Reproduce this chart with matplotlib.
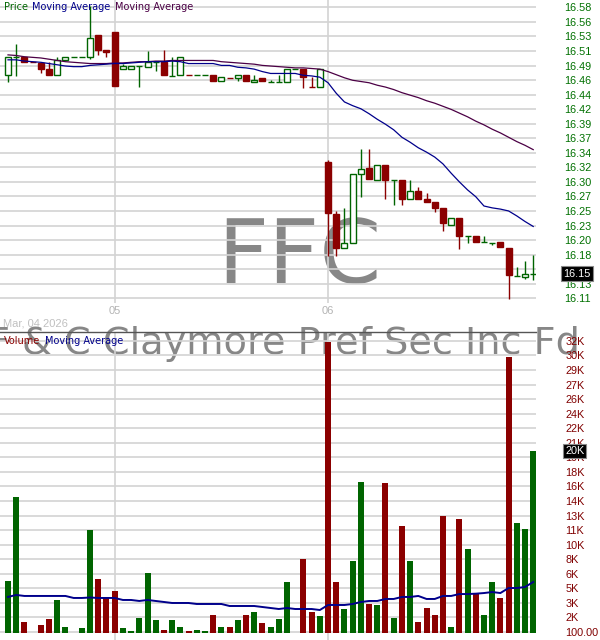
import numpy as np
import matplotlib
matplotlib.use("Agg")
import matplotlib.pyplot as plt
import matplotlib.transforms as mtransforms
from matplotlib.patches import Rectangle

# FFC, 15 minute bars, Mar 04 - Mar 06 2026
opens = [16.470, 16.499, 16.500, 16.491, 16.490, 16.480, 16.470, 16.494, 16.499, 16.499,
         16.499, 16.535, 16.511, 16.540, 16.481, 16.480, 16.485, 16.484, 16.491, 16.491,
         16.469, 16.470, 16.470, 16.470, 16.470, 16.470, 16.461, 16.465, 16.465, 16.470,
         16.460, 16.465, 16.460, 16.460, 16.460, 16.480, 16.480, 16.451, 16.451, 16.330,
         16.246, 16.191, 16.200, 16.310, 16.320, 16.301, 16.325, 16.301, 16.301, 16.270,
         16.284, 16.270, 16.265, 16.256, 16.229, 16.240, 16.210, 16.210, 16.201, 16.200,
         16.201, 16.191, 16.146, 16.145, 16.150]
highs = [16.499, 16.521, 16.500, 16.491, 16.490, 16.491, 16.499, 16.499, 16.499, 16.499,
         16.582, 16.535, 16.511, 16.540, 16.489, 16.485, 16.485, 16.509, 16.491, 16.511,
         16.499, 16.499, 16.470, 16.470, 16.470, 16.470, 16.467, 16.465, 16.470, 16.470,
         16.470, 16.465, 16.462, 16.470, 16.480, 16.480, 16.480, 16.468, 16.480, 16.334,
         16.251, 16.255, 16.310, 16.351, 16.351, 16.325, 16.325, 16.301, 16.301, 16.301,
         16.289, 16.280, 16.265, 16.256, 16.239, 16.240, 16.210, 16.210, 16.210, 16.200,
         16.201, 16.191, 16.161, 16.170, 16.180]
lows = [16.460, 16.469, 16.491, 16.491, 16.474, 16.471, 16.470, 16.494, 16.499, 16.499,
        16.496, 16.502, 16.499, 16.452, 16.481, 16.480, 16.451, 16.484, 16.477, 16.470,
        16.469, 16.470, 16.470, 16.470, 16.470, 16.461, 16.461, 16.465, 16.461, 16.461,
        16.460, 16.461, 16.460, 16.460, 16.460, 16.480, 16.450, 16.451, 16.451, 16.179,
        16.179, 16.191, 16.200, 16.274, 16.302, 16.301, 16.270, 16.260, 16.260, 16.270,
        16.271, 16.266, 16.250, 16.219, 16.229, 16.190, 16.200, 16.201, 16.201, 16.196,
        16.193, 16.109, 16.146, 16.141, 16.140]
closes = [16.499, 16.499, 16.491, 16.491, 16.481, 16.471, 16.494, 16.499, 16.499, 16.499,
          16.531, 16.511, 16.507, 16.452, 16.485, 16.485, 16.485, 16.492, 16.491, 16.470,
          16.469, 16.499, 16.470, 16.470, 16.470, 16.461, 16.467, 16.465, 16.470, 16.461,
          16.462, 16.461, 16.460, 16.460, 16.480, 16.480, 16.467, 16.451, 16.480, 16.247,
          16.192, 16.200, 16.310, 16.319, 16.302, 16.325, 16.301, 16.301, 16.271, 16.284,
          16.271, 16.266, 16.256, 16.231, 16.239, 16.211, 16.210, 16.201, 16.201, 16.200,
          16.193, 16.147, 16.146, 16.150, 16.150]
# u = up bar (green), d = down bar (red)
direction = "uudddduuuuudddu" "uuuuduudu" "udud" "udud" "uuuu" "dd" "uddu" "uudud" "udud" "dddud" "udu" "udduuu"

volume = [5700, 14900, 1200, 0, 860, 1500, 3600, 650, 0, 540,
          11300, 5900, 3900, 4600, 540, 200, 1600, 6600, 1400, 300,
          1400, 650, 200, 300, 200, 1950, 650, 650, 1400, 1950,
          2300, 1080, 650, 1500, 5600, 0, 8100, 2300, 1850, 31900,
          5600, 2600, 7900, 16500, 3200, 3050, 16400, 1600, 11700, 7900,
          1200, 2700, 1950, 12800, 650, 12500, 9200, 4400, 1950, 5600,
          3800, 30200, 12000, 11400, 19900]

ma_fast = [16.495, 16.495, 16.493, 16.492, 16.491, 16.489, 16.487, 16.485, 16.484, 16.484,
           16.486, 16.487, 16.488, 16.489, 16.489, 16.490, 16.491, 16.492, 16.492, 16.492,
           16.493, 16.492, 16.489, 16.489, 16.489, 16.489, 16.486, 16.486, 16.483, 16.482,
           16.480, 16.476, 16.473, 16.473, 16.473, 16.473, 16.470, 16.469, 16.467, 16.458,
           16.441, 16.427, 16.421, 16.416, 16.408, 16.399, 16.391, 16.382, 16.370, 16.362,
           16.353, 16.346, 16.338, 16.327, 16.312, 16.298, 16.285, 16.274, 16.259, 16.256,
           16.254, 16.251, 16.243, 16.234, 16.226]
ma_slow = [16.503, 16.502, 16.500, 16.499, 16.498, 16.496, 16.494, 16.492, 16.491, 16.490,
           16.489, 16.489, 16.489, 16.490, 16.490, 16.491, 16.492, 16.492, 16.493, 16.493,
           16.494, 16.494, 16.494, 16.494, 16.494, 16.494, 16.492, 16.491, 16.490, 16.489,
           16.488, 16.486, 16.485, 16.484, 16.483, 16.482, 16.482, 16.481, 16.480, 16.476,
           16.471, 16.466, 16.462, 16.460, 16.458, 16.454, 16.451, 16.447, 16.442, 16.438,
           16.434, 16.429, 16.425, 16.420, 16.415, 16.409, 16.403, 16.396, 16.390, 16.383,
           16.377, 16.370, 16.363, 16.357, 16.350]
vol_ma = [3940, 4160, 4050, 4050, 4050, 4050, 4050, 4050, 3830, 3830,
          3880, 3830, 3830, 3830, 3610, 3610, 3500, 3610, 3500, 3390,
          3280, 3280, 3280, 3170, 3170, 3170, 3170, 2950, 2950, 2950,
          2950, 2840, 2730, 2620, 2730, 2620, 2620, 2620, 2510, 3060,
          3060, 3060, 3170, 3390, 3500, 3500, 3720, 3720, 3940, 3940,
          4050, 3720, 3720, 4050, 4050, 4260, 4260, 4300, 4370, 4480,
          4370, 4920, 4920, 5030, 5580]

day_starts = [13, 39]
day_labels = ["05", "06"]
start_date = "Mar, 04 2026"

price_labels = ["16.58", "16.56", "16.53", "16.51", "16.49", "16.46", "16.44", "16.42",
                "16.39", "16.37", "16.34", "16.32", "16.30", "16.27", "16.25", "16.23",
                "16.20", "16.18", "", "16.13", "16.11"]
vol_labels = ["100.00", "2K", "3K", "5K", "6K", "8K", "10K", "11K", "13K", "14K", "16K",
              "18K", "19K", "21K", "22K", "24K", "26K", "27K", "29K", "30K", "32K"]

GREEN = '#006400'
RED = '#8b0000'
BLUE = '#00008b'
PURPLE = '#4b0045'
GRID = '#d3d3d3'

W, H = 600, 640
fig = plt.figure(figsize=(W / 100, H / 100), dpi=100)


def px_axes(x0, y0, x1, y1):
    return fig.add_axes([x0 / W, 1 - y1 / H, (x1 - x0) / W, (y1 - y0) / H])


ax = px_axes(0, 0, 536, 303)
axv = px_axes(0, 332, 536, 640)
n = len(closes)
x = np.arange(n)
w = 0.73

for a in (ax, axv):
    a.set_facecolor('none')
    a.set_xlim(-0.975, 64.34)
    a.set_xticks([])
    for s in a.spines.values():
        s.set_visible(False)
    for d in day_starts:
        a.axvline(d, color=GRID, lw=1.2, zorder=1)

# price panel
ax.set_ylim(16.1024, 16.5916)
ax.set_yticks(np.linspace(16.5798, 16.1100, len(price_labels)))
ax.set_yticklabels(price_labels)
ax.grid(axis='y', color=GRID, lw=1.2, zorder=1)
ax.yaxis.tick_right()
ax.tick_params(axis='y', length=0, pad=20, labelsize=7.8, labelcolor='#007000')
for lab in ax.get_yticklabels():
    lab.set_fontfamily('Liberation Sans')

for i in range(n):
    up = direction[i] == 'u'
    col = GREEN if up else RED
    ax.vlines(i, lows[i], highs[i], color=col, lw=1.0, zorder=3)
    lo = min(opens[i], closes[i])
    ax.add_patch(Rectangle((i - w / 2, lo), w, abs(closes[i] - opens[i]),
                           facecolor='white' if up else col, edgecolor=col,
                           lw=1.0, zorder=4))

ax.plot(x, ma_slow, color=PURPLE, lw=0.9, zorder=5)
ax.plot(x, ma_fast, color=BLUE, lw=0.9, zorder=5)

tr = mtransforms.blended_transform_factory(ax.transAxes, ax.transData)
ax.text(563 / 536, closes[-1], f"{closes[-1]:.2f}", transform=tr, color='white',
        fontsize=7.8, family='Liberation Sans', va='center', ha='left', zorder=10,
        bbox=dict(facecolor='black', edgecolor='#888888', pad=1.8, lw=0.8))

trx = mtransforms.blended_transform_factory(ax.transData, ax.transAxes)
for d, lab in zip(day_starts, day_labels):
    ax.text(d, -0.027, lab, transform=trx, ha='center', va='center',
            color='#b4b4b4', fontsize=8, family='Liberation Sans')
ax.text(3 / 536, -0.068, start_date, transform=ax.transAxes, ha='left', va='center',
        color='#c0c0c0', fontsize=8, family='Liberation Sans')

# volume panel
axv.set_ylim(-777, 32980)
axv.set_yticks(np.linspace(100, 32000, len(vol_labels)))
axv.set_yticklabels(vol_labels)
axv.grid(axis='y', color=GRID, lw=1.2, zorder=1)
axv.yaxis.tick_right()
axv.tick_params(axis='y', length=0, pad=21, labelsize=7.8, labelcolor='#800000')
for lab in axv.get_yticklabels():
    lab.set_fontfamily('Liberation Sans')
axv.spines['top'].set_visible(True)
axv.spines['top'].set_color('#555555')
axv.spines['top'].set_linewidth(1.0)

bar_cols = [GREEN if d == 'u' else RED for d in direction]
axv.bar(x, volume, width=w, color=bar_cols, zorder=3)
axv.plot(x, vol_ma, color=BLUE, lw=1.4, zorder=5)

trv = mtransforms.blended_transform_factory(axv.transAxes, axv.transData)
axv.text(565 / 536, volume[-1], f"{round(volume[-1] / 1000)}K", transform=trv,
         color='white', fontsize=7.8, family='Liberation Sans', va='center', ha='left',
         zorder=10, bbox=dict(facecolor='black', edgecolor='#888888', pad=1.5, lw=0.8))


def ftext(px, py, s, **kw):
    fig.text(px / W, 1 - py / H, s, **kw)


# legends
ftext(4, 7, "Price", color=GREEN, fontsize=7, va='center')
ftext(32, 7, "Moving Average", color=BLUE, fontsize=7, va='center')
ftext(115, 7, "Moving Average", color=PURPLE, fontsize=7, va='center')
ftext(4, 341, "Volume", color=RED, fontsize=7, va='center', zorder=6)
ftext(45, 341, "Moving Average", color=BLUE, fontsize=7, va='center', zorder=6)

# watermarks
ftext(299, 283, "FFC", color='#7a7a7a', fontsize=64, ha='center', va='baseline',
      alpha=0.9, zorder=-1)
ftext(284, 354, "F & C Claymore Pref Sec Inc Fd", color='#7a7a7a', fontsize=27.5,
      ha='center', va='baseline', alpha=0.9, zorder=-1)

fig.savefig('out.png', dpi=100)
